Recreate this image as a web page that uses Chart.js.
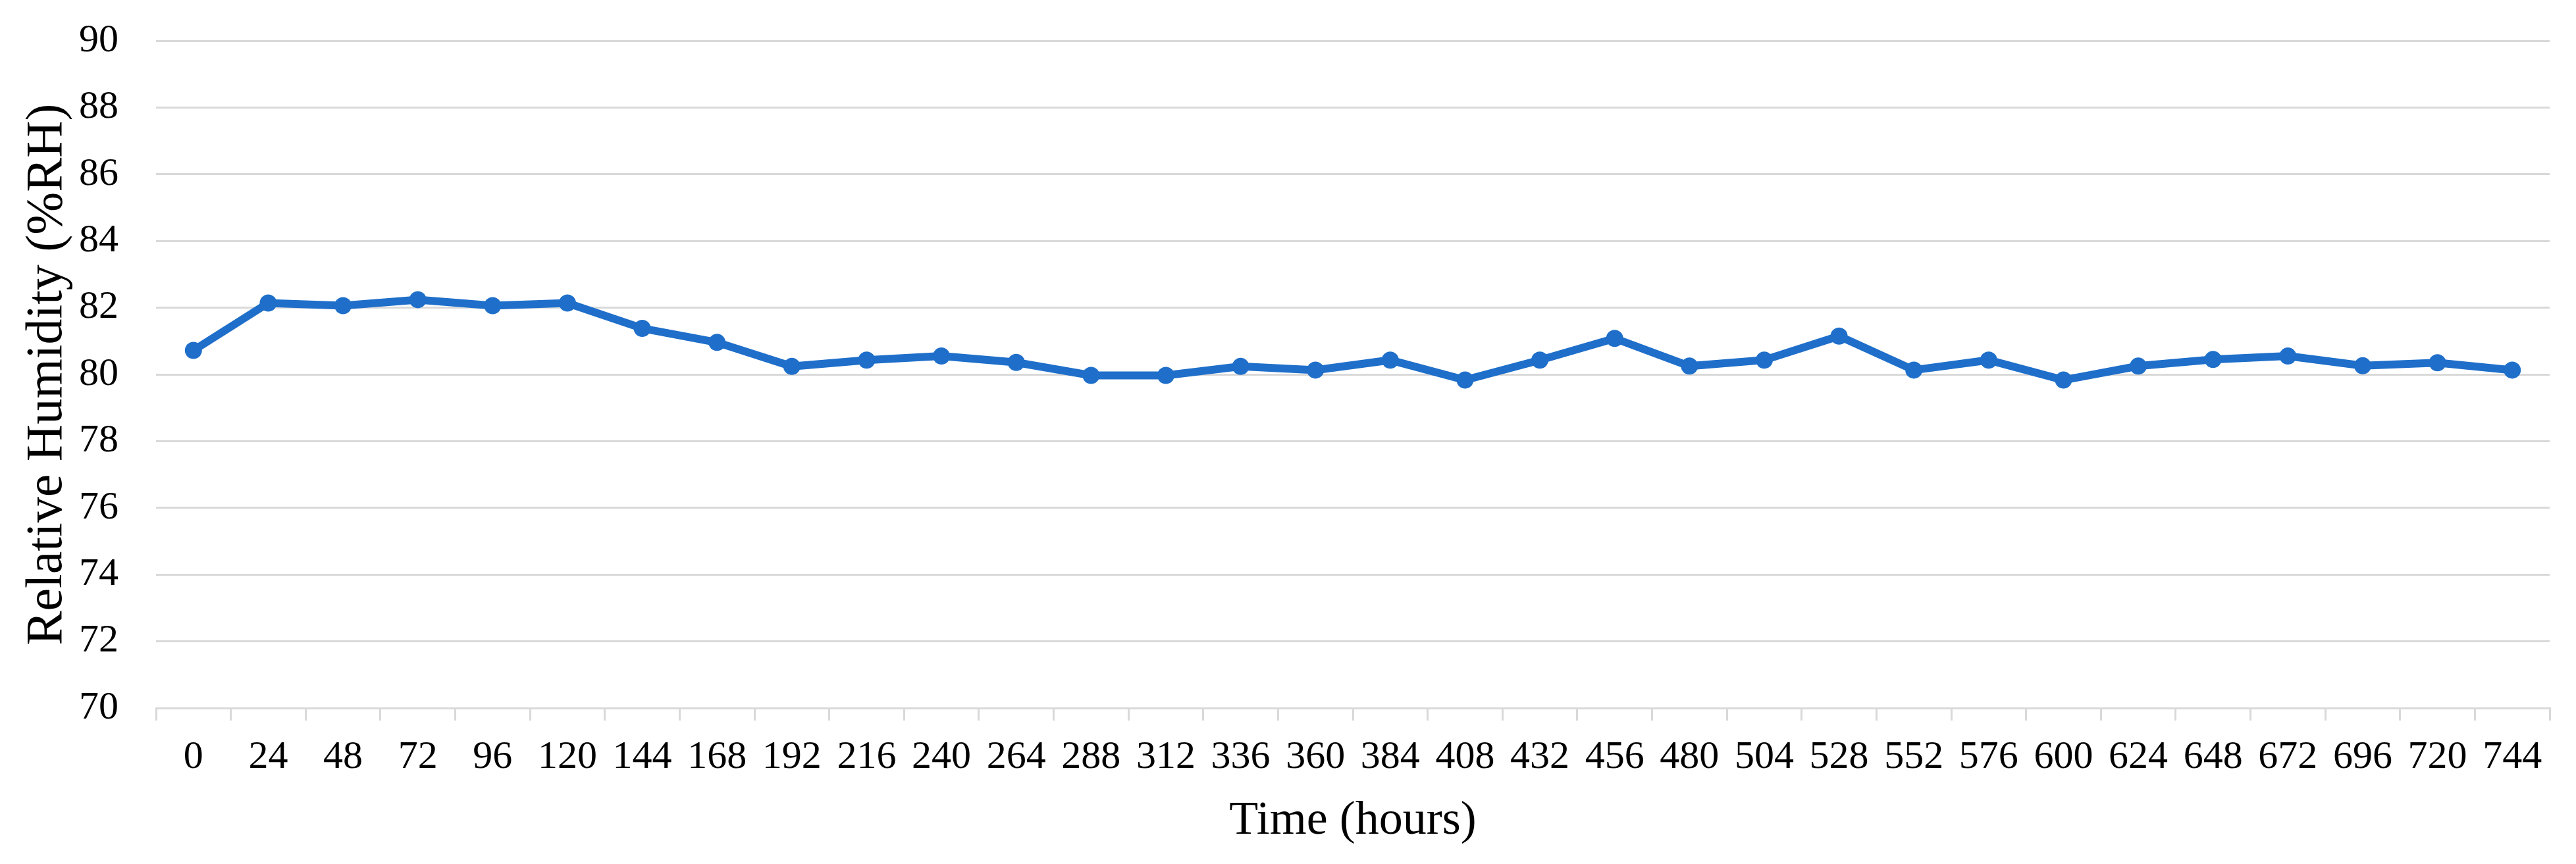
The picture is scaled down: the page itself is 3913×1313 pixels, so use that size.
<!DOCTYPE html>
<html>
<head>
<meta charset="utf-8">
<script src="https://cdn.jsdelivr.net/npm/chart.js@4/dist/chart.umd.min.js"></script>
<style>
  html, body { margin: 0; padding: 0; background: #fff; }
  #wrap { width: 3913px; height: 1313px; }
</style>
</head>
<body>
<div id="wrap"><canvas id="myChart" width="3913" height="1313"></canvas></div>
<script>
// Time labels (hours) on the x axis
const hours = ['0','24','48','72','96','120','144','168','192','216','240','264','288','312','336','360',
               '384','408','432','456','480','504','528','552','576','600','624','648','672','696','720','744'];

// Relative humidity values
const humidity = [80.72, 82.14, 82.06, 82.24, 82.06, 82.14, 81.38, 80.96, 80.24, 80.43, 80.55, 80.36,
                  79.97, 79.97, 80.24, 80.13, 80.43, 79.83, 80.43, 81.08, 80.25, 80.43, 81.15, 80.13,
                  80.43, 79.83, 80.25, 80.45, 80.55, 80.26, 80.35, 80.13];

// y axis range
const yMin = 70;
const yMax = 90;
const yStep = 2;

const serif = "'Liberation Serif', 'Times New Roman', serif";
const lineBlue = '#1f6fca';
const gridGrey = '#d9d9d9';

const ctx = document.getElementById('myChart').getContext('2d');
const myChart = new Chart(ctx, {
  type: 'line',
  data: {
    labels: hours,
    datasets: [{
      label: 'Relative Humidity',
      data: humidity,
      borderColor: lineBlue,
      backgroundColor: lineBlue,
      borderWidth: 12,
      pointRadius: 13,
      pointBorderWidth: 0,
      tension: 0
    }]
  },
  options: {
    responsive: false,
    animation: false,
    layout: { padding: { left: 0, right: 40, top: 62, bottom: 0 } },
    plugins: {
      legend: { display: false },
      tooltip: { enabled: false }
    },
    scales: {
      x: {
        offset: true,
        grid: {
          offset: true,
          drawOnChartArea: false,
          drawTicks: true,
          tickLength: 19,
          color: gridGrey,
          lineWidth: 3
        },
        border: { display: true, color: gridGrey, width: 3 },
        ticks: {
          color: '#000',
          font: { family: serif, size: 60 },
          padding: 20,
          maxRotation: 0,
          autoSkip: false
        },
        title: {
          display: true,
          text: 'Time (hours)',
          color: '#000',
          font: { family: serif, size: 72 },
          padding: { top: 0, bottom: 22 }
        },
        afterFit: function(scale) {
          scale.height = 237;
          scale.paddingLeft = 0;
          scale.paddingRight = 0;
        }
      },
      y: {
        min: yMin,
        max: yMax,
        grid: {
          color: gridGrey,
          lineWidth: 3,
          drawTicks: false
        },
        border: { display: false },
        ticks: {
          stepSize: yStep,
          color: '#000',
          font: { family: serif, size: 60 },
          padding: 57
        },
        title: {
          display: true,
          text: 'Relative Humidity (%RH)',
          color: '#000',
          font: { family: serif, size: 78 },
          padding: { top: 26, bottom: 0 }
        },
        afterFit: function(scale) {
          scale.width = 237;
          scale.paddingTop = 0;
          scale.paddingBottom = 0;
        }
      }
    }
  }
});
</script>
</body>
</html>
